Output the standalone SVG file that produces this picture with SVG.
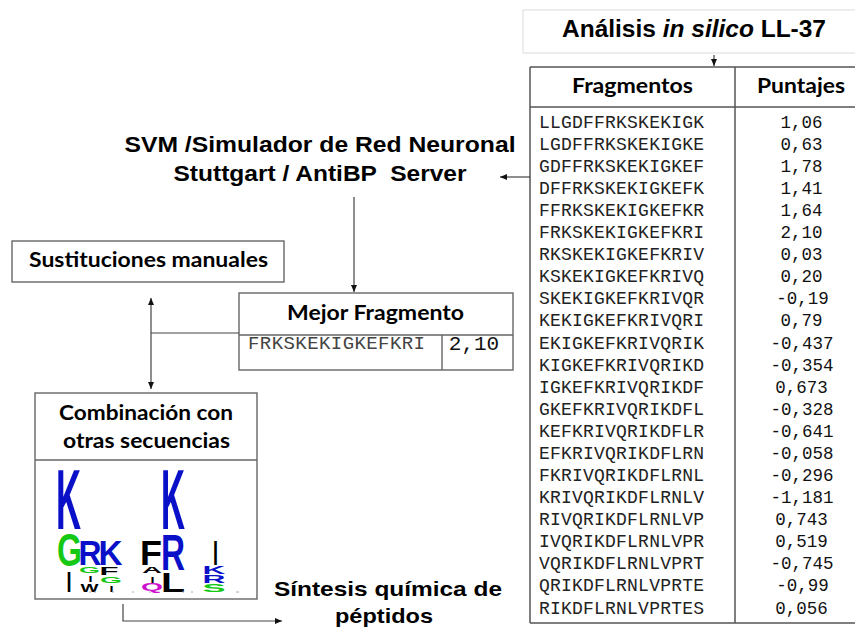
<svg xmlns="http://www.w3.org/2000/svg" width="855" height="627" viewBox="0 0 855 627">
<defs>
<style>
.hd{font-family:"Liberation Sans",Arial,sans-serif;font-weight:bold;fill:#000}
.cb{font-family:Lato,"Open Sans",sans-serif;font-weight:bold;fill:#000}
.mono{font-family:"Liberation Mono","Courier New",monospace;fill:#222}
.sc{font-family:"Liberation Mono","Courier New",monospace;fill:#111;text-anchor:middle}
.box{fill:#fff;stroke:#666;stroke-width:1.4}
.tl{stroke:#555;stroke-width:1.5;fill:none}
.con{stroke:#444;stroke-width:1.2;fill:none}
.lg{font-family:"Liberation Sans",Arial,sans-serif;font-weight:bold}
.b{fill:#0a10c8}.g{fill:#14c814}.k{fill:#000}.m{fill:#d010d0}
</style>
<marker id="ah" markerWidth="8" markerHeight="8" refX="7" refY="4" orient="auto" markerUnits="userSpaceOnUse"><path d="M0,1 L7,4 L0,7 z" fill="#111"/></marker>
</defs>
<rect width="855" height="627" fill="#fff"/>

<g id="title">
<rect x="523" y="10" width="340" height="43" fill="#fff" stroke="#e2e2e2" stroke-width="1.2"/>
<text class="hd" x="694" y="37" font-size="23.5" text-anchor="middle" textLength="264" lengthAdjust="spacingAndGlyphs">Análisis <tspan font-style="italic">in silico</tspan> LL-37</text>
</g>

<g id="table">
<path class="tl" d="M530,67 H856 M530,107 H856 M530,623 H856 M530,67 V623 M735,67 V623"/>
<text class="cb" x="632.5" y="93" font-size="21" text-anchor="middle" textLength="121" lengthAdjust="spacingAndGlyphs">Fragmentos</text>
<text class="cb" x="801" y="93" font-size="21" text-anchor="middle" textLength="88" lengthAdjust="spacingAndGlyphs">Puntajes</text>
<g font-size="18">
<text class="mono" x="539" y="127.7" textLength="165">LLGDFFRKSKEKIGK</text>
<text class="mono" x="539" y="149.8" textLength="165">LGDFFRKSKEKIGKE</text>
<text class="mono" x="539" y="171.9" textLength="165">GDFFRKSKEKIGKEF</text>
<text class="mono" x="539" y="193.9" textLength="165">DFFRKSKEKIGKEFK</text>
<text class="mono" x="539" y="216.0" textLength="165">FFRKSKEKIGKEFKR</text>
<text class="mono" x="539" y="238.1" textLength="165">FRKSKEKIGKEFKRI</text>
<text class="mono" x="539" y="260.2" textLength="165">RKSKEKIGKEFKRIV</text>
<text class="mono" x="539" y="282.3" textLength="165">KSKEKIGKEFKRIVQ</text>
<text class="mono" x="539" y="304.3" textLength="165">SKEKIGKEFKRIVQR</text>
<text class="mono" x="539" y="326.4" textLength="165">KEKIGKEFKRIVQRI</text>
<text class="mono" x="539" y="348.5" textLength="165">EKIGKEFKRIVQRIK</text>
<text class="mono" x="539" y="370.6" textLength="165">KIGKEFKRIVQRIKD</text>
<text class="mono" x="539" y="392.7" textLength="165">IGKEFKRIVQRIKDF</text>
<text class="mono" x="539" y="414.7" textLength="165">GKEFKRIVQRIKDFL</text>
<text class="mono" x="539" y="436.8" textLength="165">KEFKRIVQRIKDFLR</text>
<text class="mono" x="539" y="458.9" textLength="165">EFKRIVQRIKDFLRN</text>
<text class="mono" x="539" y="481.0" textLength="165">FKRIVQRIKDFLRNL</text>
<text class="mono" x="539" y="503.1" textLength="165">KRIVQRIKDFLRNLV</text>
<text class="mono" x="539" y="525.1" textLength="165">RIVQRIKDFLRNLVP</text>
<text class="mono" x="539" y="547.2" textLength="165">IVQRIKDFLRNLVPR</text>
<text class="mono" x="539" y="569.3" textLength="165">VQRIKDFLRNLVPRT</text>
<text class="mono" x="539" y="591.4" textLength="165">QRIKDFLRNLVPRTE</text>
<text class="mono" x="539" y="613.5" textLength="165">RIKDFLRNLVPRTES</text>
</g>
<g font-size="17.5">
<text class="sc" x="801.5" y="127.7">1,06</text>
<text class="sc" x="801.5" y="149.8">0,63</text>
<text class="sc" x="801.5" y="171.9">1,78</text>
<text class="sc" x="801.5" y="193.9">1,41</text>
<text class="sc" x="801.5" y="216.0">1,64</text>
<text class="sc" x="801.5" y="238.1">2,10</text>
<text class="sc" x="801.5" y="260.2">0,03</text>
<text class="sc" x="801.5" y="282.3">0,20</text>
<text class="sc" x="802.5" y="304.3">-0,19</text>
<text class="sc" x="801.5" y="326.4">0,79</text>
<text class="sc" x="802" y="348.5">-0,437</text>
<text class="sc" x="802" y="370.6">-0,354</text>
<text class="sc" x="801.5" y="392.7">0,673</text>
<text class="sc" x="802" y="414.7">-0,328</text>
<text class="sc" x="802" y="436.8">-0,641</text>
<text class="sc" x="802" y="458.9">-0,058</text>
<text class="sc" x="802" y="481.0">-0,296</text>
<text class="sc" x="802" y="503.1">-1,181</text>
<text class="sc" x="801.5" y="525.1">0,743</text>
<text class="sc" x="801.5" y="547.2">0,519</text>
<text class="sc" x="802" y="569.3">-0,745</text>
<text class="sc" x="802.5" y="591.4">-0,99</text>
<text class="sc" x="801.5" y="613.5">0,056</text>
</g>
</g>

<g id="svm">
<text class="hd" x="320" y="152" font-size="21.5" text-anchor="middle" textLength="391" lengthAdjust="spacingAndGlyphs">SVM /Simulador de Red Neuronal</text>
<text class="hd" x="320" y="181" font-size="21.5" text-anchor="middle" textLength="293" lengthAdjust="spacingAndGlyphs" xml:space="preserve">Stuttgart / AntiBP  Server</text>
</g>

<g id="sustituciones">
<rect class="box" x="12" y="241" width="272" height="41"/>
<text class="cb" x="148.5" y="267" font-size="20" text-anchor="middle" textLength="239" lengthAdjust="spacingAndGlyphs">Sustituciones manuales</text>
</g>

<g id="mejor">
<rect class="box" x="239" y="293" width="274" height="77"/>
<path d="M239,335 H513 M442,335 V370" stroke="#666" stroke-width="1.4"/>
<text class="cb" x="375.5" y="320" font-size="20" text-anchor="middle" textLength="177" lengthAdjust="spacingAndGlyphs">Mejor Fragmento</text>
<text class="mono" x="248" y="349" font-size="19" style="fill:#444" textLength="177">FRKSKEKIGKEFKRI</text>
<text class="sc" x="474" y="350" font-size="21">2,10</text>
</g>

<g id="combinacion">
<rect class="box" x="35" y="393" width="222" height="206"/>
<line x1="35" y1="460" x2="257" y2="460" stroke="#666" stroke-width="1.4"/>
<text class="cb" x="146" y="420" font-size="20" text-anchor="middle" textLength="174" lengthAdjust="spacingAndGlyphs">Combinación con</text>
<text class="cb" x="146.5" y="448" font-size="20" text-anchor="middle" textLength="167" lengthAdjust="spacingAndGlyphs">otras secuencias</text>
<g class="lg">
<text class="b" x="56" y="529" font-size="85" textLength="25" lengthAdjust="spacingAndGlyphs">K</text>
<text class="g" x="57" y="566" font-size="47" textLength="25" lengthAdjust="spacingAndGlyphs">G</text>
<text class="k" x="66.5" y="592" font-size="29" textLength="5" lengthAdjust="spacingAndGlyphs">I</text>
<text class="b" x="78.5" y="565" font-size="35" textLength="23" lengthAdjust="spacingAndGlyphs">R</text>
<text class="g" x="79" y="573" font-size="8.5" textLength="21" lengthAdjust="spacingAndGlyphs">G</text>
<text class="k" x="88.5" y="582" font-size="8.5" textLength="4" lengthAdjust="spacingAndGlyphs">I</text>
<text class="k" x="80.5" y="592" font-size="11" textLength="18" lengthAdjust="spacingAndGlyphs">W</text>
<text class="b" x="98.5" y="565" font-size="35" textLength="24" lengthAdjust="spacingAndGlyphs">K</text>
<text class="k" x="99.5" y="575" font-size="10" textLength="19" lengthAdjust="spacingAndGlyphs">F</text>
<text class="g" x="100" y="583" font-size="9.5" textLength="22" lengthAdjust="spacingAndGlyphs">G</text>
<text class="k" x="109.5" y="592" font-size="9" textLength="4" lengthAdjust="spacingAndGlyphs">I</text>
<text class="k" x="140" y="565" font-size="35" textLength="22" lengthAdjust="spacingAndGlyphs">F</text>
<text class="k" x="142" y="573" font-size="8.5" textLength="20" lengthAdjust="spacingAndGlyphs">A</text>
<text class="k" x="150.5" y="583" font-size="9.5" textLength="4" lengthAdjust="spacingAndGlyphs">I</text>
<text class="m" x="141" y="591" font-size="10" textLength="22" lengthAdjust="spacingAndGlyphs">Q</text>
<text class="b" x="161" y="529" font-size="85" textLength="24" lengthAdjust="spacingAndGlyphs">K</text>
<text class="b" x="161" y="570" font-size="50" textLength="24" lengthAdjust="spacingAndGlyphs">R</text>
<text class="k" x="161" y="592" font-size="28" textLength="24" lengthAdjust="spacingAndGlyphs">L</text>
<text class="k" x="213" y="565" font-size="35" textLength="5" lengthAdjust="spacingAndGlyphs">I</text>
<text class="b" x="202.5" y="574" font-size="10" textLength="23" lengthAdjust="spacingAndGlyphs">K</text>
<text class="b" x="202.5" y="583" font-size="10" textLength="23" lengthAdjust="spacingAndGlyphs">R</text>
<text class="g" x="202.5" y="592" font-size="10.5" textLength="23" lengthAdjust="spacingAndGlyphs">S</text>
</g>
<path d="M89,592 h2 M94,592 h2 M112,592 h2 M132,592 h2 M149,592 h2 M182,592 h2 M191,592 h2 M236,592 h3" stroke="#aaa" stroke-width="1"/>
</g>

<g id="sintesis">
<text class="hd" x="388" y="596" font-size="21" text-anchor="middle" textLength="228" lengthAdjust="spacingAndGlyphs">Síntesis química de</text>
<text class="hd" x="384" y="623" font-size="21" text-anchor="middle" textLength="98" lengthAdjust="spacingAndGlyphs">péptidos</text>
</g>

<g id="connectors">
<path class="con" d="M714,55 V66" marker-end="url(#ah)"/>
<path class="con" d="M530,177 H500" marker-end="url(#ah)"/>
<path class="con" d="M354,197 V292" marker-end="url(#ah)"/>
<path class="con" d="M239,333 H151"/>
<path class="con" d="M151,333 V298" marker-end="url(#ah)"/>
<path class="con" d="M151,333 V389" marker-end="url(#ah)"/>
<path class="con" d="M123,604 V621 H282" marker-end="url(#ah)"/>
</g>
</svg>
